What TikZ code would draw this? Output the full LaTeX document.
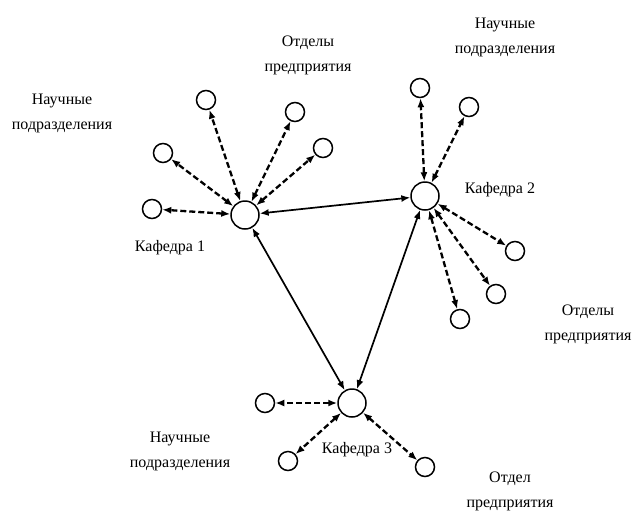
\documentclass[tikz,border=0pt]{standalone}
\usepackage{fontspec}
\setmainfont{Liberation Serif}
\usetikzlibrary{arrows.meta}
\begin{document}
\begin{tikzpicture}[x=1pt,y=-1pt,
  kaf/.style={circle,draw,line width=1.5pt,minimum size=28pt,inner sep=0},
  sub/.style={circle,draw,line width=1.5pt,minimum size=19pt,inner sep=0},
  lbl/.style={align=center,inner sep=0,font=\fontsize{16}{25}\selectfont},
  link/.style={line width=1.7pt,{Latex[length=9pt,width=7pt]}-{Latex[length=9pt,width=7pt]}},
  dlink/.style={link,line width=2.3pt,dash pattern=on 6pt off 3pt}]
\useasboundingbox (0,0) rectangle (634,512);
\fill[white] (0,0) rectangle (634,512);
% main nodes
\node[kaf] (k1) at (245,215) {};
\node[kaf] (k2) at (425,196) {};
\node[kaf] (k3) at (352,403) {};
% satellites of k1
\node[sub] (a1) at (206,100) {};
\node[sub] (a2) at (295,112) {};
\node[sub] (a3) at (163,153) {};
\node[sub] (a4) at (323,148) {};
\node[sub] (a5) at (152,209) {};
% satellites of k2
\node[sub] (b1) at (420,88) {};
\node[sub] (b2) at (469,107) {};
\node[sub] (b3) at (515,251) {};
\node[sub] (b4) at (496,294) {};
\node[sub] (b5) at (460,319) {};
% satellites of k3
\node[sub] (c1) at (265,403) {};
\node[sub] (c2) at (288,461) {};
\node[sub] (c3) at (425,467) {};
% labels
\node[lbl] (t1) at (308,55) {Отделы\\предприятия};
\node[lbl] (t2) at (62,113) {Научные\\подразделения};
\node[lbl] (t3) at (505,37) {Научные\\подразделения};
\node[lbl] (t4) at (170,248) {Кафедра 1};
\node[lbl] (t5) at (500,190) {Кафедра 2};
\node[lbl] (t6) at (588,324) {Отделы\\предприятия};
\node[lbl] (t7) at (180,451) {Научные\\подразделения};
\node[lbl] (t8) at (357,450) {Кафедра 3};
\node[lbl] (t9) at (510,491) {Отдел\\предприятия};
% solid links
\draw[link] (k1) -- (k2);
\draw[link] (k1) -- (k3);
\draw[link] (k2) -- (k3);
% dashed links
\foreach \s in {a1,a2,a3,a4,a5} \draw[dlink] (k1) -- (\s);
\foreach \s in {b1,b2,b3,b4,b5} \draw[dlink] (k2) -- (\s);
\foreach \s in {c1,c2,c3} \draw[dlink] (k3) -- (\s);
\end{tikzpicture}
\end{document}
